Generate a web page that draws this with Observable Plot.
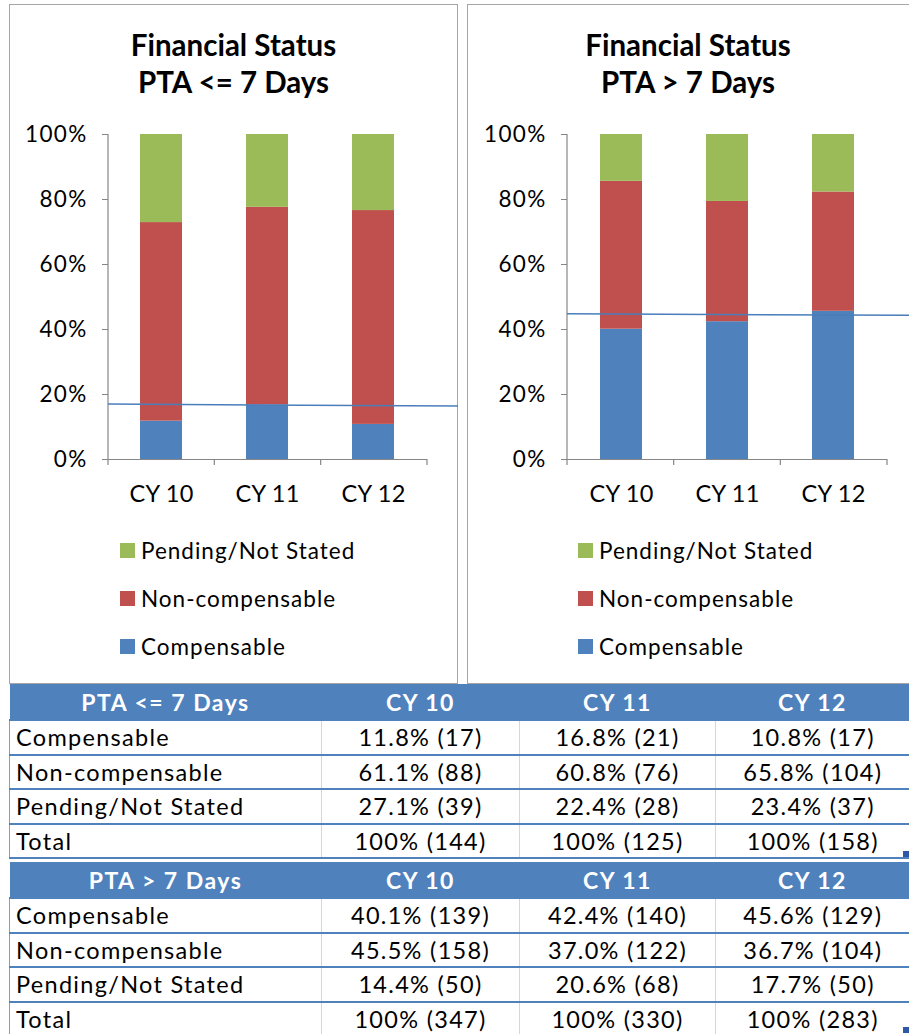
<!DOCTYPE html>
<html><head><meta charset="utf-8">
<script src="https://cdn.jsdelivr.net/npm/d3@7"></script>
<script src="https://cdn.jsdelivr.net/npm/@observablehq/plot@0.6"></script>
<style>
body{margin:0;background:#fff;font-family:Lato,"Open Sans",sans-serif;color:#000;}
#root{position:relative;width:909px;height:1034px;overflow:hidden;background:#fff;}
.panel{position:absolute;border:1.5px solid #a6a6a6;box-sizing:border-box;background:#fff;}
.title{position:absolute;text-align:center;font-weight:bold;font-size:29.5px;line-height:37px;}
.chart{position:absolute;}
.chart svg{overflow:visible;}
.chart g[aria-label="y-axis tick"]{stroke:#868686;}
.chart g[aria-label="y-axis tick label"]{font-size:22.5px;letter-spacing:1.3px;}
.chart g[aria-label="x-axis tick label"]{font-size:23.5px;letter-spacing:0.3px;}
.lg{position:absolute;display:flex;align-items:center;height:30px;font-size:22.5px;letter-spacing:1px;white-space:nowrap;}
.sw{width:15px;height:15px;margin-right:6px;flex:none;}
table{position:absolute;border-collapse:collapse;table-layout:fixed;font-size:23.5px;letter-spacing:1.3px;}
th,td{padding:0;white-space:nowrap;overflow:hidden;}
th{background:#4F81BD;color:#fff;font-weight:bold;text-align:center;font-size:23px;letter-spacing:1.5px;}
td{text-align:center;border-top:2px solid #4F81BD;border-left:1.5px solid #d6d6d6;background:#fff;}
td.lab{text-align:left;padding-left:6px;border-left:1.5px solid #7f9fc7;}
.handle{position:absolute;width:6px;height:6px;background:#2f58a6;}
</style></head>
<body><div id="root"></div>
<script>
// ---- data ----
const years = ["CY 10", "CY 11", "CY 12"];
const statuses = ["Compensable", "Non-compensable", "Pending/Not Stated"];
const legendOrder = ["Pending/Not Stated", "Non-compensable", "Compensable"];
const colors = ["#4F81BD", "#C0504D", "#9BBB59"];
const yTicks = [0, 20, 40, 60, 80, 100];

// PTA <= 7 Days
const shortCompPct = [11.8, 16.8, 10.8];
const shortNonCompPct = [61.1, 60.8, 65.8];
const shortPendingPct = [27.1, 22.4, 23.4];
const shortCompN = [17, 21, 17];
const shortNonCompN = [88, 76, 104];
const shortPendingN = [39, 28, 37];
const shortTotalN = [144, 125, 158];
const shortRefLine = [16.9, 16.3];

// PTA > 7 Days
const longCompPct = [40.1, 42.4, 45.6];
const longNonCompPct = [45.5, 37.0, 36.7];
const longPendingPct = [14.4, 20.6, 17.7];
const longCompN = [139, 140, 129];
const longNonCompN = [158, 122, 104];
const longPendingN = [50, 68, 50];
const longTotalN = [347, 330, 283];
const longRefLine = [44.7, 44.2];

const root = document.getElementById("root");
function el(tag, cls, style, text) {
  const e = document.createElement(tag);
  if (cls) e.className = cls;
  if (style) Object.assign(e.style, style);
  if (text != null) e.textContent = text;
  return e;
}

function extras(refLine) {
  return (index, scales, values, dims) => {
    const g = d3.create("svg:g");
    const ml = dims.marginLeft, mr = dims.marginRight, w = dims.width;
    const y0 = scales.y(0), y1 = scales.y(100);
    g.append("line").attr("x1", ml).attr("x2", ml).attr("y1", y0).attr("y2", y1)
      .attr("stroke", "#868686").attr("stroke-width", 1.2);
    const n = years.length, step = (w - ml - mr) / n;
    for (let i = 0; i <= n; i++) {
      g.append("line").attr("x1", ml + i * step).attr("x2", ml + i * step)
        .attr("y1", y0).attr("y2", y0 + 6).attr("stroke", "#868686").attr("stroke-width", 1.2);
    }
    g.append("line").attr("x1", ml).attr("x2", w)
      .attr("y1", scales.y(refLine[0])).attr("y2", scales.y(refLine[1]))
      .attr("stroke", "#4A7EBB").attr("stroke-width", 1.5);
    return g.node();
  };
}

function chart(series, refLine, width, marginLeft, marginRight) {
  const rows = [];
  statuses.forEach((s, i) => years.forEach((yr, j) => rows.push({year: yr, status: s, value: series[i][j]})));
  return Plot.plot({
    width, height: 410, marginLeft, marginRight, marginTop: 24, marginBottom: 61,
    style: {fontFamily: "Lato, sans-serif", fontSize: "22px", color: "#000", background: "transparent", overflow: "visible"},
    x: {domain: years, paddingInner: 0.6, paddingOuter: 0.3, label: null, tickSize: 0, tickPadding: 26},
    y: {domain: [0, 100], ticks: yTicks, tickFormat: d => d + "%", label: null, tickSize: 6, tickPadding: 15},
    color: {domain: statuses, range: colors},
    marks: [
      Plot.barY(rows, {x: "year", y: "value", fill: "status"}),
      Plot.ruleY([0], {stroke: "#868686", strokeWidth: 1.2}),
      extras(refLine)
    ]
  });
}

function panel(left, width, titleLines, series, refLine, svgWidth, ml, mr, legendX) {
  root.appendChild(el("div", "panel", {left: left + "px", top: "4px", width: width + "px", height: "680px"}));
  const t = el("div", "title", {left: left + "px", top: "26px", width: Math.min(width, 909 - left) + "px"});
  t.innerHTML = titleLines.map(s => s.replace(/&/g, "&amp;").replace(/</g, "&lt;").replace(/>/g, "&gt;")).join("<br>");
  root.appendChild(t);
  const c = el("div", "chart", {left: left + "px", top: "110px"});
  c.appendChild(chart(series, refLine, svgWidth, ml, mr));
  root.appendChild(c);
  legendOrder.forEach((s, i) => {
    const row = el("div", "lg", {left: legendX + "px", top: (535 + i * 48) + "px"});
    row.appendChild(el("div", "sw", {background: colors[statuses.indexOf(s)]}));
    row.appendChild(el("span", null, null, s));
    root.appendChild(row);
  });
}

panel(9, 449, ["Financial Status", "PTA <= 7 Days"],
  [shortCompPct, shortNonCompPct, shortPendingPct], shortRefLine, 449, 99, 31, 120);
panel(467, 450, ["Financial Status", "PTA > 7 Days"],
  [longCompPct, longNonCompPct, longPendingPct], longRefLine, 442, 100, 22, 578);

function fmt(p, n) { return (p === 100 ? "100" : p.toFixed(1)) + "% (" + n + ")"; }

function table(top, header, pcts, counts, totals, rowH) {
  const tb = el("table", null, {left: "9px", top: top + "px", width: "900px"});
  const cg = document.createElement("colgroup");
  [312, 198, 196, 194].forEach(w => cg.appendChild(el("col", null, {width: w + "px"})));
  tb.appendChild(cg);
  const hr = document.createElement("tr");
  [header, ...years].forEach(h => hr.appendChild(el("th", null, {height: "35px"}, h)));
  tb.appendChild(hr);
  statuses.forEach((s, i) => {
    const tr = document.createElement("tr");
    tr.appendChild(el("td", "lab", {height: rowH + "px"}, s));
    years.forEach((y, j) => tr.appendChild(el("td", null, {height: rowH + "px"}, fmt(pcts[i][j], counts[i][j]))));
    tb.appendChild(tr);
  });
  const tr = document.createElement("tr");
  tr.appendChild(el("td", "lab", {height: rowH + "px", borderBottom: "2px solid #4F81BD"}, "Total"));
  years.forEach((y, j) => tr.appendChild(el("td", null, {height: rowH + "px", borderBottom: "2px solid #4F81BD"}, fmt(100, totals[j]))));
  tb.appendChild(tr);
  root.appendChild(tb);
}

table(684, "PTA <= 7 Days", [shortCompPct, shortNonCompPct, shortPendingPct],
  [shortCompN, shortNonCompN, shortPendingN], shortTotalN, 32.5);
table(862, "PTA > 7 Days", [longCompPct, longNonCompPct, longPendingPct],
  [longCompN, longNonCompN, longPendingN], longTotalN, 32.5);

root.appendChild(el("div", "handle", {left: "903px", top: "851px"}));
root.appendChild(el("div", "handle", {left: "903px", top: "1027px"}));
</script>
</body></html>
